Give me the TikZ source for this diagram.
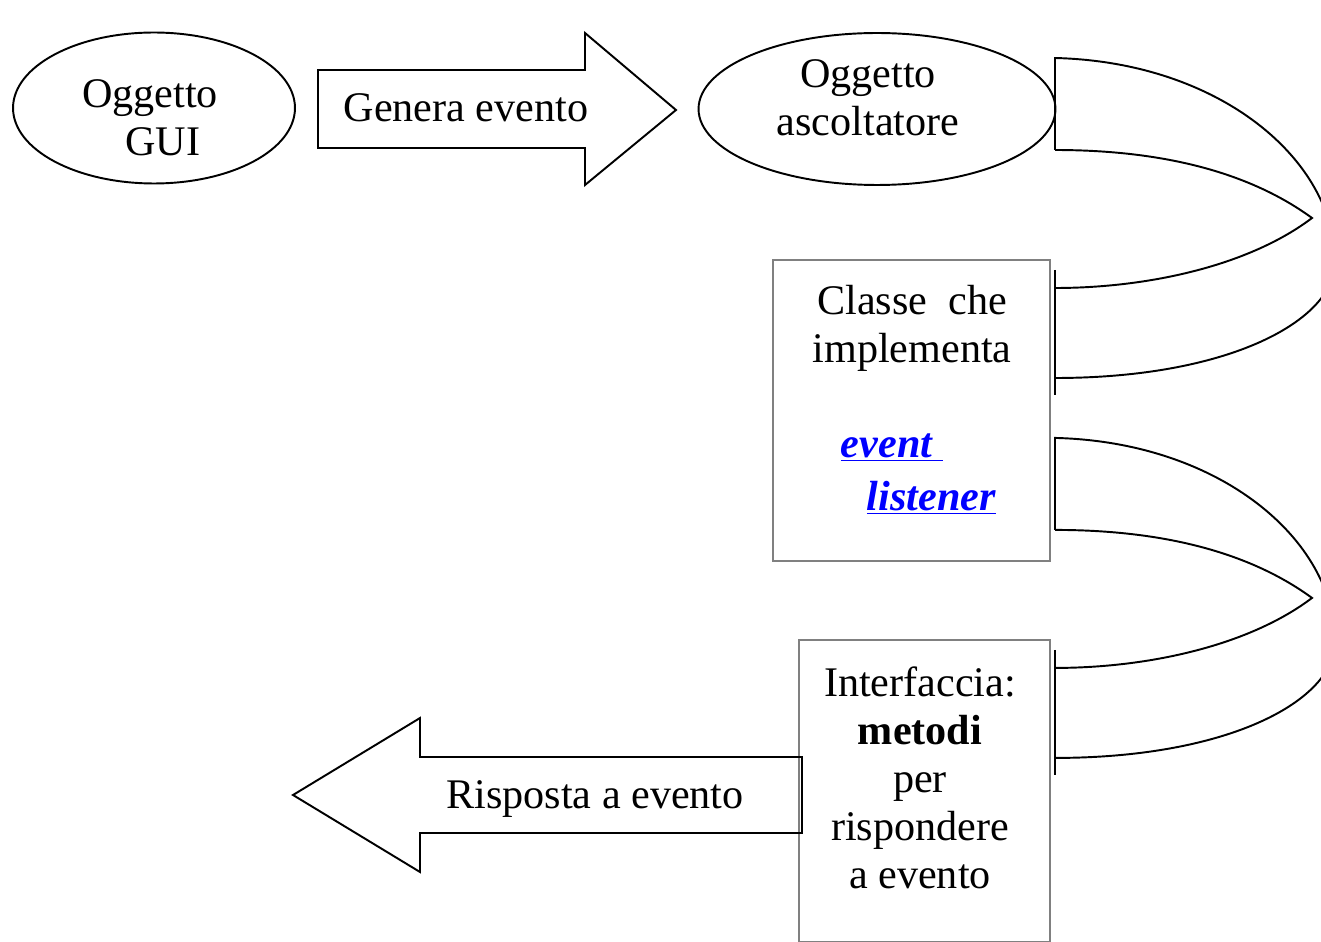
\documentclass[tikz,border=0pt]{standalone}
\usepackage{fontspec}
\setmainfont{Liberation Serif}
\usetikzlibrary{shapes.geometric}

\begin{document}
\begin{tikzpicture}[x=0.02cm,y=-0.02cm,line width=1.1pt,
	every node/.style={font=\fontsize{24}{27.3}\selectfont,inner sep=0pt},
	oval/.style={ellipse,draw,line width=1.1pt},
	box/.style={draw=gray,line width=0.9pt},
	link/.style={text=blue,font=\fontsize{24}{27.3}\selectfont\bfseries\itshape}]
\useasboundingbox (0,0) rectangle (1321,942);
\clip (0,0) rectangle (1321,942);
% GUI object
	\node[oval,minimum width=5.64cm,minimum height=3.02cm] (gui) at (154,108) {};
	\node[align=center,anchor=north] (guitext) at (150,79) {Oggetto\\\hspace*{0.6em}GUI};
% listener object
	\node[oval,minimum width=7.14cm,minimum height=3.04cm] (ascolt) at (877,109) {};
	\node[align=center,anchor=north] (ascolttext) at (868,59) {Oggetto\\ascoltatore};
% Block arrow: genera evento
	\draw (318,70) -- (585,70) -- (585,33) -- (676,110) -- (585,185) -- (585,148) -- (318,148) -- cycle;
	\node[anchor=base] (genera) at (466,122) {Genera evento};
% Class box
	\node[box,minimum width=5.54cm,minimum height=6.02cm] (classe) at (911.5,410.5) {};
	\node[align=center,anchor=north] (classetext) at (912,284) {Classe\ \ che\\implementa};
	\node[link,anchor=base west] (event) at (840,457) {\underline{event\ }};
	\node[link,anchor=base west] (listener) at (866,510) {\underline{listener}};
% Interface box
	\node[box,minimum width=5.02cm,minimum height=6.04cm] (intf) at (924.5,791) {};
	\node[align=center,anchor=north] (intftext) at (920,666)
		{Interfaccia:\\\textbf{metodi}\\per\\rispondere\\a evento};
% Block arrow: risposta a evento
	\draw (802,757) -- (420,757) -- (420,718) -- (293,795) -- (420,872) -- (420,833) -- (802,833) -- cycle;
	\node[anchor=base] (risposta) at (595,808) {Risposta a evento};
% Curved arrows
	\foreach \dy in {0,-7.6}{
	\begin{scope}[yshift=\dy cm]
		\draw (1055,150) -- (1055,58) .. controls (1220,62) and (1335,160) .. (1335,262)
			.. controls (1335,320) and (1230,378) .. (1055,378);
		\draw (1055,150) .. controls (1180,150) and (1260,180) .. (1312,218)
			.. controls (1250,265) and (1150,288) .. (1055,288);
		\draw (1055,270) -- (1055,395);
	\end{scope}}
\end{tikzpicture}
\end{document}
